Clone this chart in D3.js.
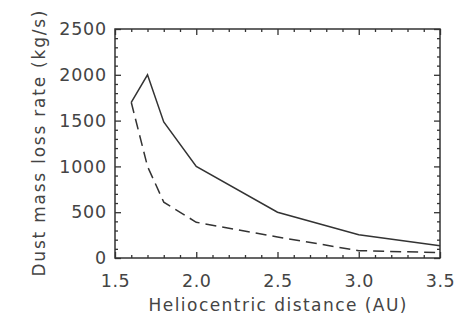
<!DOCTYPE html>
<html>
<head>
<meta charset="utf-8">
<script src="https://cdn.jsdelivr.net/npm/d3@7"></script>
<style>
  body { margin: 0; background: #fff; }
  text { font-family: "DejaVu Sans", sans-serif; fill: #444; }
</style>
</head>
<body>
<div id="chart"></div>
<script>
// heliocentric distance (AU)
const distance = [1.6, 1.7, 1.8, 2.0, 2.5, 3.0, 3.5];
// dust mass loss rate (kg/s), solid and dashed curves
const rateSolid = [1700, 2000, 1485, 1000, 500, 255, 135];
const rateDashed = [1700, 1000, 610, 390, 230, 80, 60];
const xTicks = [1.5, 2.0, 2.5, 3.0, 3.5];
const yTicks = [0, 500, 1000, 1500, 2000, 2500];

const W = 471, H = 320;
const margin = { top: 29, right: 31, bottom: 62, left: 115 };
const w = W - margin.left - margin.right;
const h = H - margin.top - margin.bottom;

const svg = d3.select("#chart").append("svg")
  .attr("width", W).attr("height", H);
const g = svg.append("g").attr("transform", `translate(${margin.left},${margin.top})`);

const x = d3.scaleLinear().domain([1.5, 3.5]).range([0, w]);
const y = d3.scaleLinear().domain([0, 2500]).range([h, 0]);

const ink = "#333";
const xMinor = d3.range(15, 36).map(d => d / 10).filter(d => !xTicks.includes(d));
const yMinor = d3.range(0, 2501, 100).filter(d => !yTicks.includes(d));

// ticks on all four sides, pointing inward
function drawAxis(axis, transform) {
  const a = g.append("g").attr("transform", transform).call(axis);
  a.select(".domain").remove();
  a.selectAll(".tick line").attr("stroke", ink).attr("stroke-width", 1.3);
  return a;
}
const none = () => "";
drawAxis(d3.axisBottom(x).tickValues(xMinor).tickSize(-3).tickFormat(none), `translate(0,${h})`);
drawAxis(d3.axisTop(x).tickValues(xMinor).tickSize(-3).tickFormat(none), "translate(0,0)");
drawAxis(d3.axisLeft(y).tickValues(yMinor).tickSize(-3).tickFormat(none), "translate(0,0)");
drawAxis(d3.axisRight(y).tickValues(yMinor).tickSize(-3).tickFormat(none), `translate(${w},0)`);
drawAxis(d3.axisTop(x).tickValues(xTicks).tickSize(-6).tickFormat(none), "translate(0,0)");
drawAxis(d3.axisRight(y).tickValues(yTicks).tickSize(-6).tickFormat(none), `translate(${w},0)`);

const xa = drawAxis(d3.axisBottom(x).tickValues(xTicks).tickSize(-6).tickPadding(17).tickFormat(d => d.toFixed(1)), `translate(0,${h})`);
xa.selectAll("text").attr("font-size", 17.5).attr("letter-spacing", 0.6);
const ya = drawAxis(d3.axisLeft(y).tickValues(yTicks).tickSize(-6).tickPadding(8).tickFormat(d3.format("d")), "translate(0,0)");
ya.selectAll("text").attr("font-size", 17.5).attr("letter-spacing", 0.8);
xa.attr("font-family", null);
ya.attr("font-family", null);

g.append("rect").attr("width", w).attr("height", h)
  .attr("fill", "none").attr("stroke", ink).attr("stroke-width", 1.5);

const line = d3.line().x(d => x(d[0])).y(d => y(d[1]));
g.append("path").datum(d3.zip(distance, rateSolid))
  .attr("d", line).attr("fill", "none").attr("stroke", ink).attr("stroke-width", 1.5);
g.append("path").datum(d3.zip(distance, rateDashed))
  .attr("d", line).attr("fill", "none").attr("stroke", ink).attr("stroke-width", 1.5)
  .attr("stroke-dasharray", "11,6");

svg.append("text")
  .attr("x", margin.left + w / 2).attr("y", 311)
  .attr("text-anchor", "middle").attr("font-size", 17)
  .attr("textLength", 258).attr("lengthAdjust", "spacing")
  .text("Heliocentric distance (AU)");
svg.append("text")
  .attr("transform", `translate(45,${margin.top + h / 2}) rotate(-90)`)
  .attr("text-anchor", "middle").attr("font-size", 17)
  .attr("textLength", 266).attr("lengthAdjust", "spacing")
  .text("Dust mass loss rate (kg/s)");
</script>
</body>
</html>
